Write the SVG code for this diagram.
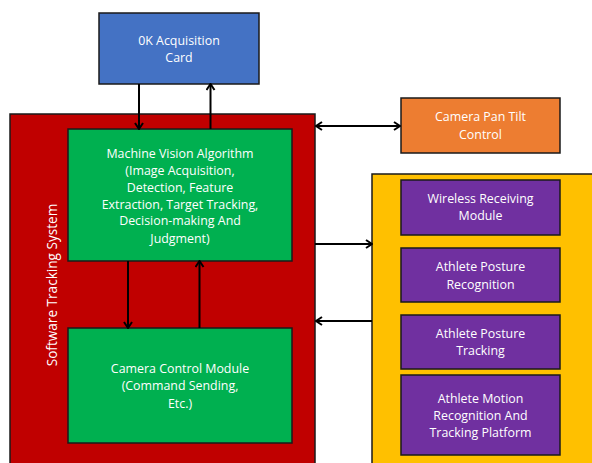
<svg xmlns="http://www.w3.org/2000/svg" width="592" height="463" viewBox="0 0 592 463">
  <style>
    .box { stroke: #1a1a1a; stroke-width: 1.5; }
    .lbl { font-family: "Open Sans", "Liberation Sans", sans-serif; font-size: 12.4px; fill: #ffffff; text-anchor: middle; }
    .side { font-size: 13.6px; }
    .wire { stroke: #000000; stroke-width: 2; fill: none; }
  </style>
  <defs>
    <marker id="chev" viewBox="0 0 10 10" refX="9" refY="5" markerWidth="10" markerHeight="10" markerUnits="userSpaceOnUse" orient="auto-start-reverse">
      <path d="M3,1 L9,5 L3,9" fill="none" stroke="#000000" stroke-width="2"/>
    </marker>
  </defs>

  <rect width="592" height="463" fill="#ffffff"/>

  <!-- containers -->
  <g id="software-tracking-system">
    <rect class="box" x="10" y="114" width="305" height="360" fill="#C00000"/>
    <text class="lbl side" transform="translate(56.5,285) rotate(-90)">Software Tracking System</text>
  </g>
  <g id="platform-group">
    <rect class="box" x="372" y="174" width="230" height="300" fill="#FFC000"/>
  </g>

  <!-- nodes -->
  <g id="acquisition-card">
    <rect class="box" x="99" y="13" width="160" height="71" fill="#4472C4"/>
    <text class="lbl" x="179" y="45">0K Acquisition</text>
    <text class="lbl" x="179" y="62">Card</text>
  </g>

  <g id="machine-vision">
    <rect class="box" x="68" y="129" width="224" height="132" fill="#00B050"/>
    <text class="lbl" x="180" y="157.5">Machine Vision Algorithm</text>
    <text class="lbl" x="180" y="175">(Image Acquisition,</text>
    <text class="lbl" x="180" y="191.5">Detection, Feature</text>
    <text class="lbl" x="180" y="208.5">Extraction, Target Tracking,</text>
    <text class="lbl" x="180" y="225">Decision-making And</text>
    <text class="lbl" x="180" y="242.5">Judgment)</text>
  </g>

  <g id="camera-control">
    <rect class="box" x="68" y="328" width="224" height="115" fill="#00B050"/>
    <text class="lbl" x="180" y="372.5">Camera Control Module</text>
    <text class="lbl" x="180" y="390">(Command Sending,</text>
    <text class="lbl" x="180" y="407.5">Etc.)</text>
  </g>

  <g id="pan-tilt">
    <rect class="box" x="401" y="98" width="159" height="55" fill="#ED7D31"/>
    <text class="lbl" x="480.5" y="121">Camera Pan Tilt</text>
    <text class="lbl" x="480.5" y="138.5">Control</text>
  </g>

  <g id="wireless-receiving">
    <rect class="box" x="401" y="180" width="159" height="55" fill="#7030A0"/>
    <text class="lbl" x="480.5" y="203">Wireless Receiving</text>
    <text class="lbl" x="480.5" y="220">Module</text>
  </g>

  <g id="posture-recognition">
    <rect class="box" x="401" y="248" width="159" height="54" fill="#7030A0"/>
    <text class="lbl" x="480.5" y="271">Athlete Posture</text>
    <text class="lbl" x="480.5" y="288.5">Recognition</text>
  </g>

  <g id="posture-tracking">
    <rect class="box" x="401" y="315" width="159" height="54" fill="#7030A0"/>
    <text class="lbl" x="480.5" y="338">Athlete Posture</text>
    <text class="lbl" x="480.5" y="355">Tracking</text>
  </g>

  <g id="motion-platform">
    <rect class="box" x="401" y="375" width="159" height="80" fill="#7030A0"/>
    <text class="lbl" x="480.5" y="402.5">Athlete Motion</text>
    <text class="lbl" x="480.5" y="420">Recognition And</text>
    <text class="lbl" x="480.5" y="437">Tracking Platform</text>
  </g>

  <!-- connectors -->
  <g id="connectors">
    <line class="wire" x1="139" y1="84" x2="139" y2="129" marker-end="url(#chev)"/>
    <line class="wire" x1="210.5" y1="129" x2="210.5" y2="84" marker-end="url(#chev)"/>
    <line class="wire" x1="128" y1="261" x2="128" y2="328" marker-end="url(#chev)"/>
    <line class="wire" x1="199.5" y1="328" x2="199.5" y2="261" marker-end="url(#chev)"/>
    <line class="wire" x1="316" y1="126" x2="400" y2="126" marker-start="url(#chev)" marker-end="url(#chev)"/>
    <line class="wire" x1="315" y1="244" x2="372" y2="244" marker-end="url(#chev)"/>
    <line class="wire" x1="372" y1="321" x2="316" y2="321" marker-end="url(#chev)"/>
  </g>
</svg>
